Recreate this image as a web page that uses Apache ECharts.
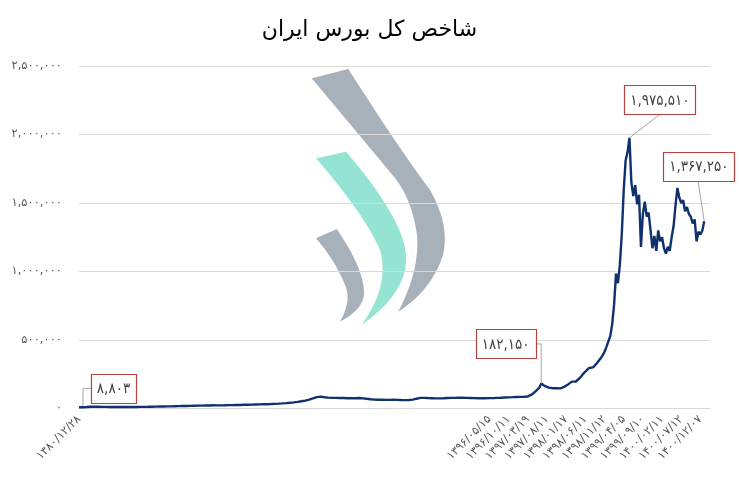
<!DOCTYPE html>
<html><head><meta charset="utf-8">
<script src="https://cdn.jsdelivr.net/npm/echarts@6/dist/echarts.min.js"></script>
<style>html,body{margin:0;padding:0;background:#fff}#c{width:739px;height:480px}</style>
</head><body><div id="c"></div>
<script>
const chartTitle = 'شاخص کل بورس ایران';

// index values, one per trading sample (first = 1380/12/28)
const indexValues = [
  8803, 9150, 9600, 10200, 10900, 11500, 12300, 12900, 13400, 13100,
  12600, 12100, 11800, 12200, 11900, 11500, 11200, 11600, 11900, 11700,
  11400, 11100, 10900, 11200, 11500, 11300, 11000, 10800, 10600, 10900,
  11300, 11700, 11500, 11800, 12200, 12600, 12400, 12900, 13300, 13000,
  13500, 14000, 14300, 14100, 14600, 15100, 15500, 15300, 15800, 16300,
  16700, 16500, 17000, 17600, 18100, 17900, 18400, 18900, 19300, 19800,
  20200, 20600, 21100, 21500, 21300, 21800, 22200, 22000, 22400, 22900,
  23300, 23100, 22700, 22400, 22800, 23200, 23600, 24100, 24500, 24300,
  24800, 25300, 25800, 26200, 26000, 26500, 27100, 27600, 27400, 27900,
  28500, 29000, 29400, 29200, 29800, 30400, 31000, 31500, 31300, 31900,
  32600, 33300, 34000, 34800, 35600, 36500, 37300, 38200, 39300, 40500,
  41800, 43300, 45000, 46800, 48500, 50400, 52600, 55000, 58000, 61500,
  65000, 69000, 73500, 78000, 83000, 88500, 86500, 84000, 82000, 80500,
  79200, 78000, 77300, 76800, 77500, 76900, 76200, 75800, 76400, 75700,
  75100, 75600, 74900, 74300, 75000, 75800, 76300, 75600, 74200, 72500,
  70800, 69200, 67600, 66300, 65100, 64200, 63500, 63900, 64500, 63800,
  63100, 62600, 63200, 63800, 64300, 63700, 63000, 62400, 61900, 61500,
  61200, 61800, 62500, 63300, 64500, 67500, 71500, 75000, 77500, 78300,
  77600, 76800, 76200, 75900, 75300, 74800, 74200, 73800, 74100, 74600,
  75200, 75800, 76400, 77000, 77500, 77200, 77800, 78300, 78900, 79300,
  78800, 78200, 77600, 77100, 76700, 76200, 75700, 75300, 74800, 75200,
  75700, 75300, 74900, 75400, 75900, 76400, 76000, 76600, 77300, 77900,
  78600, 79300, 80000, 80700, 81300, 82000, 82700, 83500, 84300, 85100,
  84600, 85200, 86000, 86900, 88000, 93000, 101000, 111000, 124000, 138000,
  152000, 182150, 171000, 163000, 158000, 152000, 149000, 147500, 151000, 149000,
  146000, 147000, 150000, 158000, 167000, 176000, 188000, 196000, 192000, 197000,
  208000, 221000, 238000, 255000, 270000, 284000, 296000, 285000, 300000, 312000,
  330000, 348000, 366000, 388000, 414000, 450000, 490000, 528000, 615000, 760000,
  985000, 915000, 1050000, 1270000, 1590000, 1810000, 1870000, 1975510, 1650000, 1550000,
  1630000, 1490000, 1560000, 1180000, 1420000, 1510000, 1400000, 1430000, 1300000, 1170000,
  1260000, 1150000, 1300000, 1220000, 1250000, 1170000, 1130000, 1180000, 1150000, 1250000,
  1330000, 1480000, 1610000, 1540000, 1500000, 1520000, 1440000, 1470000, 1420000, 1400000,
  1350000, 1380000, 1220000, 1290000, 1270000, 1300000, 1367250
];

// dated tick labels and the sample each belongs to
const tickDates = ['۱۳۸۰/۱۲/۲۸', '۱۳۹۶/۰۵/۱۵', '۱۳۹۶/۱۰/۱۱', '۱۳۹۷/۰۳/۱۹', '۱۳۹۷/۰۸/۱۱',
  '۱۳۹۸/۰۱/۱۷', '۱۳۹۸/۰۶/۱۱', '۱۳۹۸/۱۱/۱۲', '۱۳۹۹/۰۴/۰۵', '۱۳۹۹/۰۹/۱۰',
  '۱۴۰۰/۰۲/۱۱', '۱۴۰۰/۰۷/۱۲', '۱۴۰۰/۱۲/۰۷'];
const tickSamples = [0, 214, 224, 234, 244, 254, 264, 274, 284, 294, 304, 314, 324];

// samples carrying a value callout
const calloutSamples = [0, 241, 287, 326];

const FA = '۰۱۲۳۴۵۶۷۸۹';
const toFa = s => String(s).replace(/\d/g, d => FA[d]);
const fmt = v => toFa(Number(v).toLocaleString('en-US'));

const tickMap = new Map(tickSamples.map((s, k) => [s, tickDates[k]]));
const slotCount = indexValues.length + 3;
const categories = Array.from({length: slotCount}, (_, i) => String(i));

const FONT = 'DejaVu Sans';
const FONT_C = 'DejaVu Sans Condensed';

// decorative logo watermark: outline = start point + quadratic segments [cx,cy,x,y]
function outline(start, segs) {
  const pts = [start];
  let [x0, y0] = start;
  segs.forEach(s => {
    if (s.length === 2) { pts.push(s); x0 = s[0]; y0 = s[1]; return; }
    const [cx, cy, x1, y1] = s;
    for (let k = 1; k <= 12; k++) {
      const t = k / 12, u = 1 - t;
      pts.push([u*u*x0 + 2*u*t*cx + t*t*x1, u*u*y0 + 2*u*t*cy + t*t*y1]);
    }
    x0 = x1; y0 = y1;
  });
  return pts;
}
const logoShapes = [
  {fill: '#a7b1b9', pts: outline([311.7,78.3], [[348.3,69],[400,150,430,190],[450,225,443,255],[432,290,398.3,311.7],[420,270,417,235],[412,200,395,178],[345,118,311.7,78.3]])},
  {fill: '#95e4d3', pts: outline([316,158.3], [[346,151.7],[392,205,403,240],[418,285,361.7,325],[390,285,380,250],[365,215,316,158.3]])},
  {fill: '#a7b1b9', pts: outline([316,238.3], [[336.7,229],[365,270,364,295],[362,310,340,321.7],[352,300,345,285],[335,260,316,238.3]])}
];
const watermark = logoShapes.map(s => ({type: 'polygon', z: -10, silent: true,
  shape: {points: s.pts}, style: {fill: s.fill}}));

const chart = echarts.init(document.getElementById('c'), null, {renderer: 'canvas'});
chart.setOption({
  animation: false,
  backgroundColor: '#fff',
  title: {text: chartTitle, left: 'center', top: 14,
    textStyle: {fontFamily: FONT, fontSize: 22, fontWeight: 'normal', color: '#000'}},
  grid: {left: 79, right: 29, top: 66, bottom: 71.5, containLabel: false, outerBoundsMode: 'none'},
  xAxis: {
    type: 'category', data: categories, boundaryGap: false,
    axisLine: {lineStyle: {color: '#d9d9d9', width: 1}},
    axisTick: {show: false},
    splitLine: {show: false},
    axisLabel: {
      interval: (i) => tickMap.has(i),
      formatter: (v, i) => tickMap.get(i) || '',
      rotate: 45, fontSize: 11.5, color: '#595959', fontFamily: FONT, margin: 9, hideOverlap: false
    }
  },
  yAxis: {
    type: 'value', min: 0, max: 2500000, interval: 500000,
    axisLine: {show: false}, axisTick: {show: false},
    axisLabel: {formatter: v => fmt(v), fontSize: 11.5, color: '#595959', fontFamily: FONT, margin: 17},
    splitLine: {lineStyle: {color: '#d9d9d9', width: 1}}
  },
  series: [{
    type: 'line', data: indexValues, showSymbol: false, symbol: 'none',
    lineStyle: {color: '#10306e', width: 2.4}, z: 3
  }],
  graphic: {elements: watermark}
});

// value callouts, positioned relative to their data points
const calloutLayout = {
  0:   {dx: 34.5, dy: -19, leader: 'elbowLeft'},
  241: {dx: -35.5, dy: -39.6, leader: 'elbowRight'},
  287: {dx: 30.5, dy: -38, leader: 'bottom'},
  326: {dx: -5.3, dy: -55, leader: 'bottomLeft'}
};
const ctx = document.createElement('canvas').getContext('2d');
const fontSize = 15;
ctx.font = fontSize + 'px "' + FONT_C + '", "' + FONT + '"';
const callouts = [];
calloutSamples.forEach(s => {
  const v = indexValues[s];
  const [px, py] = chart.convertToPixel({gridIndex: 0}, [s, v]);
  const L = calloutLayout[s];
  const text = fmt(v);
  const w = Math.round(ctx.measureText(text).width) + 12;
  const h = 29;
  const cx = px + L.dx, cy = py + L.dy;
  const left = cx - w / 2, right = cx + w / 2, bottom = cy + h / 2;
  let pts;
  if (L.leader === 'elbowLeft') pts = [[px + 4, py - 1], [px + 4, cy], [left, cy]];
  else if (L.leader === 'elbowRight') pts = [[right, cy], [px, cy], [px, py]];
  else if (L.leader === 'bottom') pts = [[px, py], [cx, bottom]];
  else pts = [[px, py], [cx - 1, bottom]];
  callouts.push({type: 'polyline', z: 50, silent: true, shape: {points: pts},
    style: {stroke: '#a6a6a6', lineWidth: 1, fill: null}});
  callouts.push({type: 'rect', z: 51, silent: true,
    shape: {x: Math.round(left) + 0.5, y: Math.round(cy - h / 2) + 0.5, width: w, height: h},
    style: {fill: '#fff', stroke: '#b8423f', lineWidth: 1.2}});
  callouts.push({type: 'text', z: 52, silent: true, x: cx, y: cy + 1,
    style: {text: text, align: 'center', verticalAlign: 'middle',
      fontSize: fontSize, fontFamily: '"' + FONT_C + '", "' + FONT + '"', fill: '#404040'}});
});
chart.setOption({graphic: {elements: watermark.concat(callouts)}});
</script>
</body></html>
